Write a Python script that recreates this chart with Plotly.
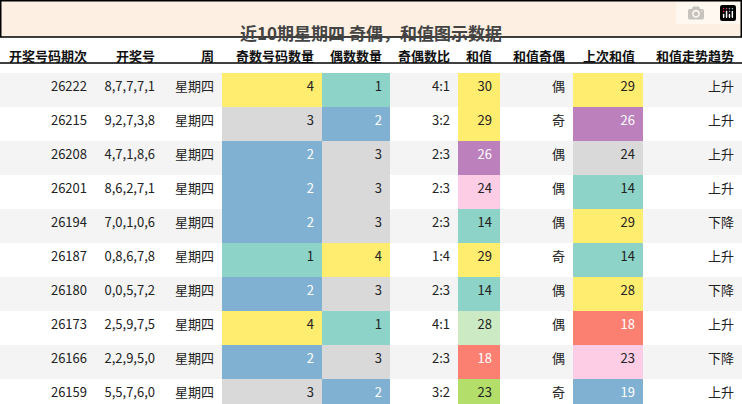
import plotly.graph_objects as go

headers = ["开奖号码期次", "开奖号", "周", "奇数号码数量", "偶数数量", "奇偶数比", "和值", "和值奇偶", "上次和值", "和值走势趋势"]
issues = ["26222", "26215", "26208", "26201", "26194", "26187", "26180", "26173", "26166", "26159"]
numbers = ["8,7,7,7,1", "9,2,7,3,8", "4,7,1,8,6", "8,6,2,7,1", "7,0,1,0,6", "0,8,6,7,8", "0,0,5,7,2", "2,5,9,7,5", "2,2,9,5,0", "5,5,7,6,0"]
weekday = ["星期四"] * 10
odd_cnt = [4, 3, 2, 2, 2, 1, 2, 4, 2, 3]
even_cnt = [1, 2, 3, 3, 3, 4, 3, 1, 3, 2]
ratio = ["4:1", "3:2", "2:3", "2:3", "2:3", "1:4", "2:3", "4:1", "2:3", "3:2"]
sums = [30, 29, 26, 24, 14, 29, 14, 28, 18, 23]
sum_parity = ["偶", "奇", "偶", "偶", "偶", "奇", "偶", "偶", "偶", "奇"]
prev_sums = [29, 26, 24, 14, 29, 14, 28, 18, 23, 19]
trend = ["上升", "上升", "上升", "上升", "下降", "上升", "下降", "上升", "下降", "上升"]

Y, T, G, B, P = "#ffed6f", "#8dd3c7", "#d9d9d9", "#80b1d3", "#bc80bd"
PK, S, LG, GR = "#fccde5", "#fb8072", "#ccebc5", "#b3de69"
cnt_color = {4: Y, 1: T, 3: G, 2: B}
sum_colors = [Y, Y, P, PK, T, Y, T, LG, S, GR]
prev_colors = [Y, P, G, T, Y, T, Y, S, PK, B]
white_on = {B, P, S}

stripe = ["#f4f4f4" if i % 2 == 0 else "white" for i in range(10)]
odd_colors = [cnt_color[v] for v in odd_cnt]
even_colors = [cnt_color[v] for v in even_cnt]
fills = [stripe, stripe, stripe, odd_colors, even_colors, stripe, sum_colors, stripe, prev_colors, stripe]
fonts = [["white" if c in white_on else "#222" for c in col] for col in fills]

fig = go.Figure(go.Table(
    columnwidth=[95, 68, 59, 100, 68, 68, 42, 73, 70, 99],
    header=dict(values=[f"<b>{h}</b>" for h in headers], align="right", height=25,
                fill_color="white", line_width=0,
                font=dict(size=13, color="#111", family="Noto Sans CJK SC")),
    cells=dict(values=[issues, numbers, weekday, odd_cnt, even_cnt, ratio, sums, sum_parity, prev_sums, trend],
               align="right", height=34, fill_color=fills, line_width=0,
               font=dict(size=13, color=fonts, family="Liberation Sans Narrow, Noto Sans CJK SC")),
    domain=dict(x=[0, 1], y=[0, 1 - 38 / 404]),
))

fig.add_shape(type="rect", xref="paper", yref="paper", x0=0.001, x1=0.999, y0=1 - 37 / 404, y1=0.998,
              fillcolor="#fdf0e2", line=dict(color="black", width=1.5), layer="below")
fig.add_shape(type="line", xref="paper", yref="paper", x0=0, x1=1, y0=1 - 63 / 404, y1=1 - 63 / 404,
              line=dict(color="black", width=1.5))
fig.add_annotation(text="<b>近10期星期四 奇偶，和值图示数据</b>", xref="paper", yref="paper",
                   x=0.5, y=1 - 18 / 404, showarrow=False,
                   font=dict(size=17, color="#444", family="Noto Sans CJK SC"))

fig.update_layout(width=742, height=404, margin=dict(l=0, r=0, t=0, b=0), paper_bgcolor="white")
fig.write_html("out.html", post_script="document.body.style.margin='0';")
